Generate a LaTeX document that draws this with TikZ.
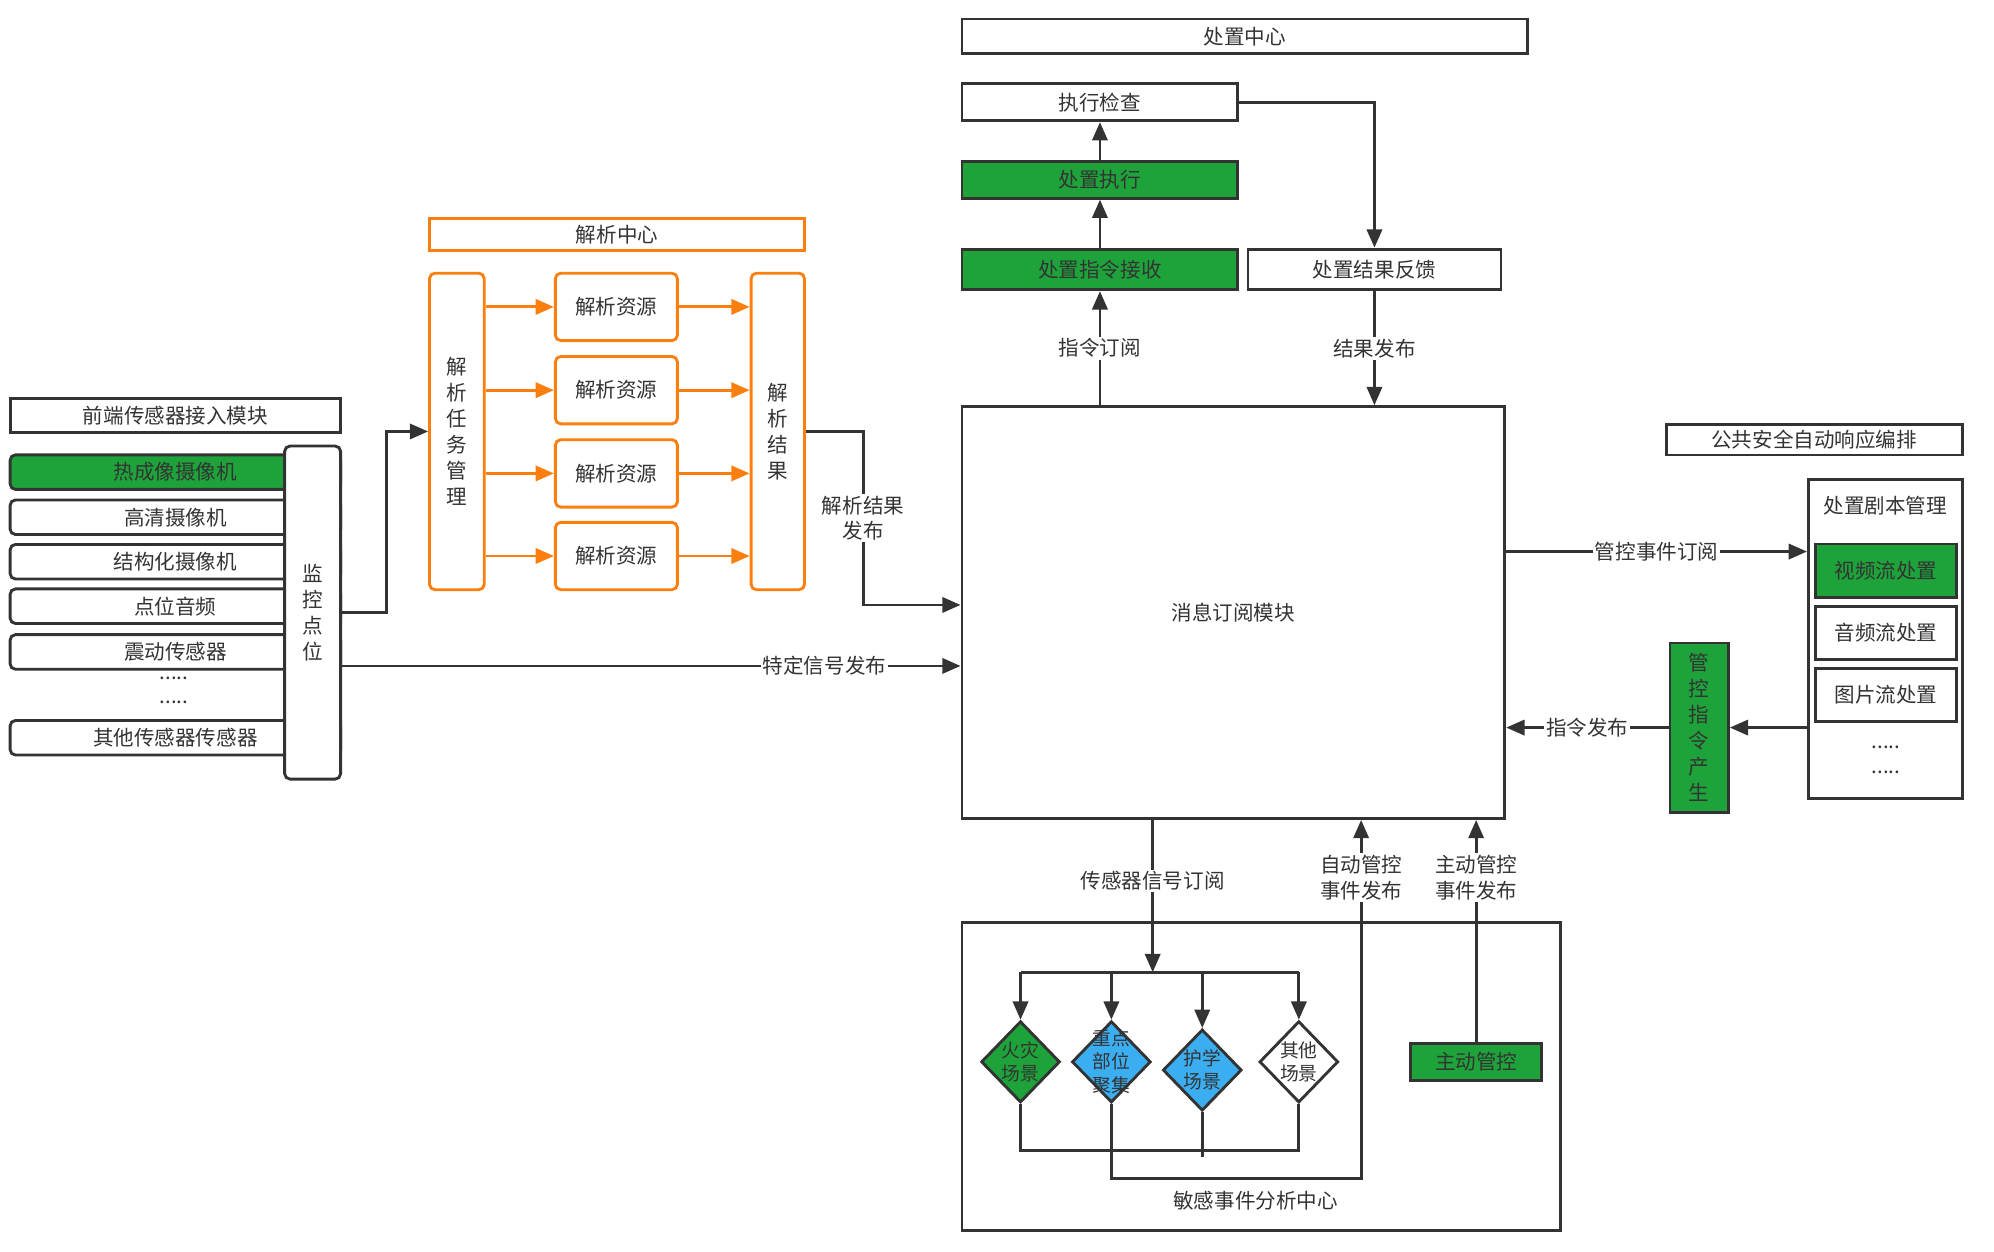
\documentclass[tikz,border=0pt]{standalone}
\usepackage{fontspec}
\setmainfont{Noto Sans CJK SC}
\usepackage{tikz}
\usetikzlibrary{arrows.meta}
\usetikzlibrary{shapes.geometric}
\definecolor{lineg}{HTML}{333333}
\definecolor{boxgreen}{HTML}{1DA33A}
\definecolor{boxblue}{HTML}{3BAEF2}
\definecolor{boxorange}{HTML}{FA7F0F}

\begin{document}
\begin{tikzpicture}[x=0.025cm,y=-0.025cm,line width=1.6pt,color=lineg,font=\fontsize{11.5}{14.5}\selectfont,
	>={Triangle[length=0.36cm,width=0.3cm]},
	box/.style={draw,inner sep=0pt,align=center},
	gbox/.style={box,fill=boxgreen},
	rbox/.style={box,rounded corners=3pt,fill=white},
	obox/.style={draw=boxorange,rounded corners=3pt,inner sep=0pt,align=center},
	tag/.style={fill=white,inner sep=1pt,align=center},
	dia/.style={draw,diamond,minimum width=1.55cm,minimum height=1.6cm,inner sep=0pt},
	dtext/.style={align=center,font=\fontsize{10.5}{13}\selectfont}]
		\useasboundingbox(0,0)rectangle(1569,985);
		\node[box,minimum width=6.5cm,minimum height=0.66cm](front)at(138,327){前端传感器接入模块};
		\node[rbox,fill=boxgreen,minimum width=6.5cm,minimum height=0.68cm](s1)at(138,371.5){热成像摄像机};
		\node[rbox,minimum width=6.5cm,minimum height=0.68cm](s2)at(138,407){高清摄像机};
		\node[rbox,minimum width=6.5cm,minimum height=0.68cm](s3)at(138,442){结构化摄像机};
		\node[rbox,minimum width=6.5cm,minimum height=0.68cm](s4)at(138,477){点位音频};
		\node[rbox,minimum width=6.5cm,minimum height=0.68cm](s5)at(138,513){震动传感器};
		\node(sdots1)at(137,534){.....};
		\node(sdots2)at(137,553){.....};
		\node[rbox,minimum width=6.5cm,minimum height=0.68cm](s6)at(138,580.5){其他传感器传感器};
		\node[rbox,minimum width=1.1cm,minimum height=6.55cm](monitor)at(246,482){监\\控\\点\\位};
		\node[draw=boxorange,inner sep=0pt,minimum width=7.375cm,minimum height=0.625cm](acenter)at(485.5,184.5){解析中心};
		\node[obox,minimum width=1.075cm,minimum height=6.225cm](task)at(359.5,339.5){解\\析\\任\\务\\管\\理};
		\foreach \i/\y in {1/241.5,2/307,3/372.5,4/437.5}
			\node[obox,minimum width=2.4cm,minimum height=1.325cm](res\i)at(485,\y){解析资源};
		\node[obox,minimum width=1.05cm,minimum height=6.225cm](result)at(612,339.5){解\\析\\结\\果};
		\foreach \i in {1,...,4}{
			\draw[->,boxorange](task.east|-res\i)--(res\i);
			\draw[->,boxorange](res\i)--(result.west|-res\i);
		}
		\node[box,minimum width=10.675cm,minimum height=8.1cm](msg)at(970.5,482){消息订阅模块};
		\draw[->](monitor.east)--++(35,0)|-(task.west);
		\draw[->](monitor.east|-0,524)--(msg.west|-0,524)node[tag,pos=0.78]{特定信号发布};
		\draw[->](result.east)--++(45,0)|-(msg.west|-0,476)node[tag,pos=0.25]{解析结果\\发布};
		\node[box,minimum width=11.125cm,minimum height=0.675cm](dcenter)at(979.5,28.5){处置中心};
		\node[box,minimum width=5.425cm,minimum height=0.725cm](check)at(865.5,80.5){执行检查};
		\node[gbox,minimum width=5.425cm,minimum height=0.725cm](exec)at(865.5,141.5){处置执行};
		\node[gbox,minimum width=5.425cm,minimum height=0.8cm](recv)at(865.5,212){处置指令接收};
		\node[box,minimum width=4.975cm,minimum height=0.8cm](feedback)at(1081.5,212){处置结果反馈};
		\draw[->](msg.north-|recv)--(recv)node[tag,pos=0.5]{指令订阅};
		\draw[->](recv)--(exec);
		\draw[->](exec)--(check);
		\draw[->](check.east)-|(feedback.north);
		\draw[->](feedback)--(msg.north-|feedback)node[tag,pos=0.5]{结果发布};
		\node[box,minimum width=5.825cm,minimum height=0.6cm](orch)at(1427.5,346){公共安全自动响应编排};
		\node[box,minimum width=3.025cm,minimum height=6.275cm](script)at(1483.5,502.5){};
		\node(scripttitle)at(1483.5,398){处置剧本管理};
		\node[gbox,minimum width=2.775cm,minimum height=1.05cm](video)at(1484,449){视频流处置};
		\node[box,minimum width=2.775cm,minimum height=1.05cm](audio)at(1484,498){音频流处置};
		\node[box,minimum width=2.775cm,minimum height=1.05cm](picture)at(1484,547){图片流处置};
		\node(pdots1)at(1484,588){.....};
		\node(pdots2)at(1484,608){.....};
		\node[gbox,minimum width=1.15cm,minimum height=3.325cm](cmdgen)at(1337,572.5){管\\控\\指\\令\\产\\生};
		\draw[->](msg.east|-0,434)--(script.west|-0,434)node[tag,pos=0.5]{管控事件订阅};
		\draw[->](script.west|-cmdgen)--(cmdgen);
		\draw[->](cmdgen)--(msg.east|-cmdgen)node[tag,pos=0.5]{指令发布};
		\node[box,minimum width=11.775cm,minimum height=6.05cm](sens)at(992.5,847){};
		\node(senstitle)at(988,945){敏感事件分析中心};
		\node[dia,fill=boxgreen,label={[dtext]center:火灾\\场景}](fire)at(803,835.5){};
		\node[dia,fill=boxblue,label={[dtext]center:重点\\部位\\聚集}](crowd)at(874.5,835.5){};
		\node[dia,fill=boxblue,label={[dtext]center:护学\\场景}](school)at(946,842){};
		\node[dia,fill=white,label={[dtext]center:其他\\场景}](other)at(1022,835.5){};
		\node[gbox,minimum width=2.575cm,minimum height=0.725cm](active)at(1161.5,835.5){主动管控};
		\coordinate(split)at(907,765);
		\draw[->](msg.south-|split)--(split)node[tag,pos=0.4]{传感器信号订阅};
		\draw(fire.north|-split)--(other.north|-split);
		\foreach \d in {fire,crowd,school,other}
			\draw[->](\d.north|-split)--(\d.north);
		\draw(fire.south)--(fire.south|-0,905)-|(other.south);
		\draw(school.south)--(school.south|-0,910);
		\draw[->](crowd.south)--(crowd.south|-0,927)-|(msg.south-|1071,0)node[tag,pos=0.92]{自动管控\\事件发布};
		\draw[->](active)--(msg.south-|active)node[tag,pos=0.74]{主动管控\\事件发布};
\end{tikzpicture}
\end{document}
